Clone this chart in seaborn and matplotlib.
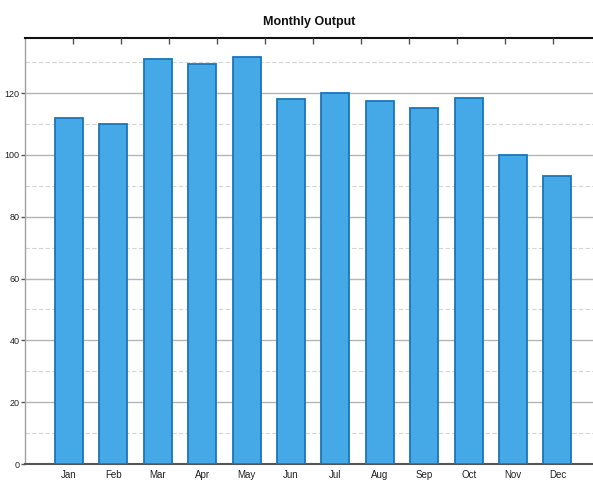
import numpy as np
import pandas as pd
import matplotlib
matplotlib.use("Agg")
import matplotlib.pyplot as plt
import seaborn as sns
from matplotlib.ticker import MultipleLocator

months = ["Jan", "Feb", "Mar", "Apr", "May", "Jun",
          "Jul", "Aug", "Sep", "Oct", "Nov", "Dec"]
output = [112, 110, 131, 129.5, 131.5, 118, 120, 117.5, 115, 118.5, 100, 93]

sns.set_theme(style="white")
plt.rcParams['font.family'] = ['Liberation Sans', 'DejaVu Sans']

df = pd.DataFrame({"month": months, "output": output})

fig = plt.figure(figsize=(5.93, 4.82), dpi=100)
ax = fig.add_axes([25 / 593, 18 / 482, 568 / 593, 426 / 482])

sns.barplot(data=df, x="month", y="output", color="#45a9e8", saturation=1,
            width=0.63, edgecolor="#1a76b8", linewidth=1.3, ax=ax, zorder=3)

ax.set_xlim(-0.99, 11.8)
ax.set_ylim(0, 137.8)
ax.yaxis.set_major_locator(MultipleLocator(20))
ax.yaxis.set_minor_locator(MultipleLocator(10))
ax.grid(True, which="major", axis="y", color="#b4b4b4", linewidth=1.0, zorder=0)
ax.grid(True, which="minor", axis="y", color="#d4d4d4", linewidth=0.8,
        linestyle=(0, (4, 2)), zorder=0)
ax.set_axisbelow(True)

ax.set_xlabel("")
ax.set_ylabel("")
ax.set_title("Monthly Output", fontsize=9, fontweight="bold", color="#111111", pad=9)

ax.tick_params(axis="y", which="major", left=True, direction="out", length=3,
               width=1, color="#555555", labelsize=6.5, pad=1, labelcolor="#222222")
ax.tick_params(axis="y", which="minor", left=False)
ax.tick_params(axis="x", bottom=True, direction="in", length=3, width=1,
               color="#555555", labelsize=7, pad=4, labelcolor="#222222")

for side in ["left", "bottom", "top"]:
    ax.spines[side].set_visible(True)
ax.spines["right"].set_visible(False)
ax.spines["left"].set_color("#a0a0a0")
ax.spines["left"].set_linewidth(1.0)
ax.spines["bottom"].set_color("#555555")
ax.spines["bottom"].set_linewidth(1.5)
ax.spines["top"].set_color("#111111")
ax.spines["top"].set_linewidth(1.5)

# tick marks along the top edge (no labels)
ax2 = ax.twiny()
ax2.set_xlim(0, 568 / 48)
ax2.set_xticks(np.arange(1, 12))
ax2.set_xticklabels([])
ax2.tick_params(axis="x", top=True, direction="in", length=4, width=1, color="#555555")
for side in ["left", "bottom", "right", "top"]:
    ax2.spines[side].set_visible(False)

fig.savefig("out.png", dpi=100)
